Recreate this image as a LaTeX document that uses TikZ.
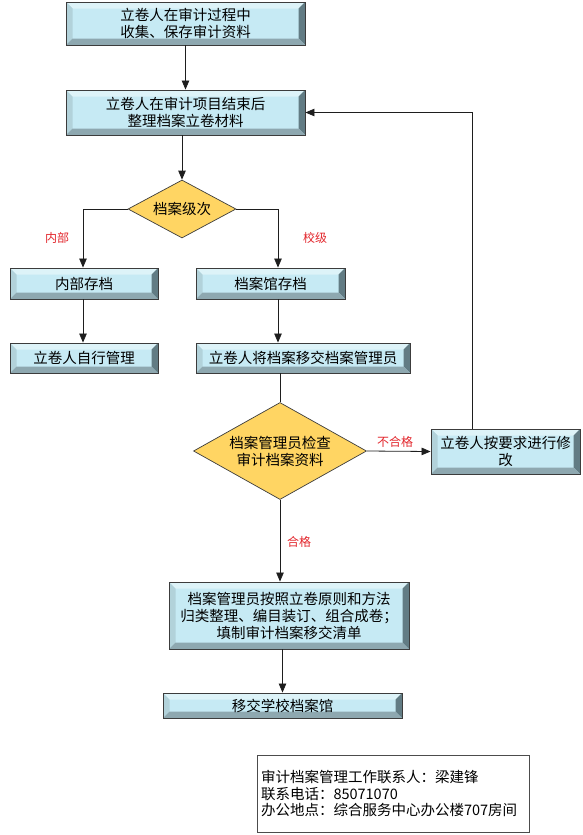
\documentclass[tikz,border=0pt]{standalone}
\usepackage{fontspec}
\newfontfamily\cjk{Noto Sans CJK SC}
\usetikzlibrary{arrows.meta,shapes.geometric,calc}
\definecolor{bevface}{HTML}{C6EAF4}
\definecolor{bevtop}{HTML}{DDF3F8}
\definecolor{bevleft}{HTML}{B2D2DA}
\definecolor{bevright}{HTML}{627C84}
\definecolor{bevbottom}{HTML}{8EA8B0}
\definecolor{bevborder}{HTML}{3C3C3C}
\definecolor{diafill}{HTML}{FFD563}
\definecolor{lblred}{HTML}{E2252B}
\definecolor{linecol}{HTML}{1E1E1E}
\tikzset{
  bevelbox/.style={draw=bevborder, line width=0.9pt, fill=bevface, inner sep=1pt,
    align=center, font=\cjk\fontsize{14.5}{17}\selectfont,
    path picture={
      \path (path picture bounding box.north west) coordinate (pNW)
            (path picture bounding box.north east) coordinate (pNE)
            (path picture bounding box.south west) coordinate (pSW)
            (path picture bounding box.south east) coordinate (pSE);
      \fill[bevtop] (pNW) -- (pNE) -- ([shift={(-6.5pt,-6.5pt)}]pNE) -- ([shift={(6.5pt,-6.5pt)}]pNW) -- cycle;
      \fill[bevleft] (pNW) -- ([shift={(6.5pt,-6.5pt)}]pNW) -- ([shift={(6.5pt,6.5pt)}]pSW) -- (pSW) -- cycle;
      \fill[bevright] (pNE) -- (pSE) -- ([shift={(-6.5pt,6.5pt)}]pSE) -- ([shift={(-6.5pt,-6.5pt)}]pNE) -- cycle;
      \fill[bevbottom] (pSW) -- ([shift={(6.5pt,6.5pt)}]pSW) -- ([shift={(-6.5pt,6.5pt)}]pSE) -- (pSE) -- cycle;
    }},
  decision/.style={diamond, draw=bevborder, line width=0.7pt, fill=diafill, inner sep=0pt,
    align=center, font=\cjk\fontsize{14.5}{17}\selectfont},
  lbl/.style={text=lblred, font=\cjk\fontsize{12}{14}\selectfont, inner sep=0pt},
  conn/.style={draw=linecol, line width=0.8pt},
  arr/.style={conn, -{Triangle[length=9pt,width=7.5pt]}},
  contact/.style={draw=black!70, line width=0.9pt, fill=white, align=left,
    font=\cjk\fontsize{14.5}{16.5}\selectfont, inner sep=0pt}
}
\begin{document}
\begin{tikzpicture}[x=1pt,y=1pt]
\useasboundingbox (0,0) rectangle (582,-835);
% boxes
\node[bevelbox, minimum width=239pt, minimum height=43pt] (b1) at (185.5,-23.5) {立卷人在审计过程中\\收集、保存审计资料};
\node[bevelbox, minimum width=239pt, minimum height=45pt] (b2) at (185.5,-112.5) {立卷人在审计项目结束后\\整理档案立卷材料};
\node[decision, aspect=1.86, minimum width=108pt, minimum height=58pt] (d1) at (182,-209) {档案级次};
\node[bevelbox, minimum width=148pt, minimum height=31pt] (b3) at (84,-283.5) {内部存档};
\node[bevelbox, minimum width=149pt, minimum height=31pt] (b4) at (270.5,-283.5) {档案馆存档};
\node[bevelbox, minimum width=148pt, minimum height=30pt] (b5) at (84,-358) {立卷人自行管理};
\node[bevelbox, minimum width=214pt, minimum height=30pt] (b6) at (303,-358) {立卷人将档案移交档案管理员};
\node[decision, aspect=1.78, minimum width=173pt, minimum height=97pt] (d2) at (280,-451) {档案管理员检查\\审计档案资料};
\node[bevelbox, minimum width=149pt, minimum height=45pt] (b7) at (505.5,-451.5) {立卷人按要求进行修\\改};
\node[bevelbox, minimum width=240pt, minimum height=67pt] (b8) at (289,-615.5) {档案管理员按照立卷原则和方法\\归类整理、编目装订、组合成卷；\\填制审计档案移交清单};
\node[bevelbox, minimum width=239pt, minimum height=25pt] (b9) at (282.5,-705.5) {移交学校档案馆};
\node[contact, minimum width=272pt, minimum height=77pt, text width=264pt] (c1) at (393,-793.5) {审计档案管理工作联系人：梁建锋\\联系电话：85071070\\办公地点：综合服务中心办公楼707房间};
% labels
\node[lbl] (l1) at (57,-238) {内部};
\node[lbl] (l2) at (315,-238) {校级};
\node[lbl] (l3) at (395,-442) {不合格};
\node[lbl] (l4) at (299,-542) {合格};
% connectors
\draw[arr] (b1.south) -- (b2.north);
\draw[arr] (b2.south -| d1.north) -- (d1.north);
\draw[arr] (d1.west) -| ([xshift=-1pt]b3.north);
\draw[arr] (d1.east) -| ([xshift=7.5pt]b4.north);
\draw[arr] ([xshift=-1pt]b3.south) -- ([xshift=-1pt]b5.north);
\draw[arr] ([xshift=7.5pt]b4.south) -- ([xshift=7.5pt]b4.south |- b6.north);
\draw[conn] (d2.north |- b6.south) -- (d2.north);
\draw[arr] (d2.east) -- (b7.west);
\draw[arr] ([xshift=-33.5pt]b7.north) |- (b2.east);
\draw[arr] (d2.south) -- (d2.south |- b8.north);
\draw[arr] (b9.north |- b8.south) -- (b9.north);
\end{tikzpicture}
\end{document}
